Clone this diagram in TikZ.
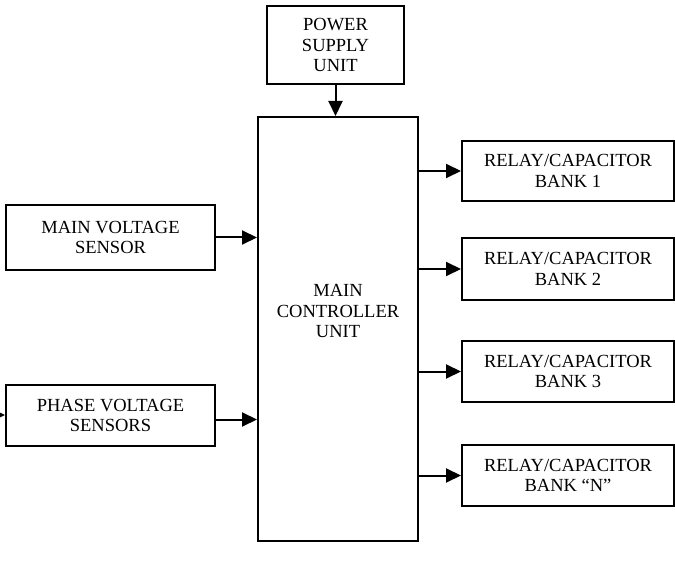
\documentclass[tikz,border=0pt]{standalone}
\usepackage{fontspec}
\setmainfont{Liberation Serif}
\usetikzlibrary{positioning,arrows.meta}

\begin{document}
\begin{tikzpicture}[x=1pt, y=-1pt,
  txt/.style={align=center, inner sep=0pt, font=\fontsize{18.5}{20.5}\selectfont},
  blk/.style={txt, draw, line width=2pt},
  arr/.style={line width=2pt, -{Triangle[length=15pt,width=14pt]}}]
\useasboundingbox (0,0) rectangle (675,580);

\def\xl{110.5}
\def\xr{568}
\def\wl{209}
\def\wr{212}

\node[blk, minimum width=137pt, minimum height=78pt] (power) at (335.5, 45) {POWER\\SUPPLY\\UNIT};
\node[draw, line width=2pt, minimum width=160pt, minimum height=424pt] (ctrl) at (338, 329) {};
\node[txt] (ctrltext) at (338, 311) {MAIN\\CONTROLLER\\UNIT};

\node[blk, minimum width=\wl pt, minimum height=65pt] (mainv) at (\xl, 237.5) {MAIN VOLTAGE\\SENSOR};
\node[blk, minimum width=\wl pt, minimum height=61pt] (phase) at (\xl, 415.5) {PHASE VOLTAGE\\SENSORS};

\node[blk, minimum width=\wr pt, minimum height=60pt] (bank1) at (\xr, 171) {RELAY/CAPACITOR\\BANK 1};
\node[blk, minimum width=\wr pt, minimum height=62pt] (bank2) at (\xr, 269) {RELAY/CAPACITOR\\BANK 2};
\node[blk, minimum width=\wr pt, minimum height=61pt] (bank3) at (\xr, 371.5) {RELAY/CAPACITOR\\BANK 3};
\node[blk, minimum width=\wr pt, minimum height=61pt] (bankn) at (\xr, 475.5) {RELAY/CAPACITOR\\BANK ``N''};

\coordinate (inlet) at (-10, 415);

\draw[arr] (power) -- (power |- ctrl.north);
\draw[arr] (mainv) -- (mainv -| ctrl.west);
\draw[arr] ([yshift=-4pt]phase.east) -- ([yshift=-4pt]phase.east -| ctrl.west);
\draw[arr] (inlet) -- (inlet -| phase.west);
\draw[arr] (ctrl.east |- bank1) -- (bank1);
\draw[arr] (ctrl.east |- bank2) -- (bank2);
\draw[arr] (ctrl.east |- bank3) -- (bank3);
\draw[arr] (ctrl.east |- bankn) -- (bankn);

\end{tikzpicture}
\end{document}
